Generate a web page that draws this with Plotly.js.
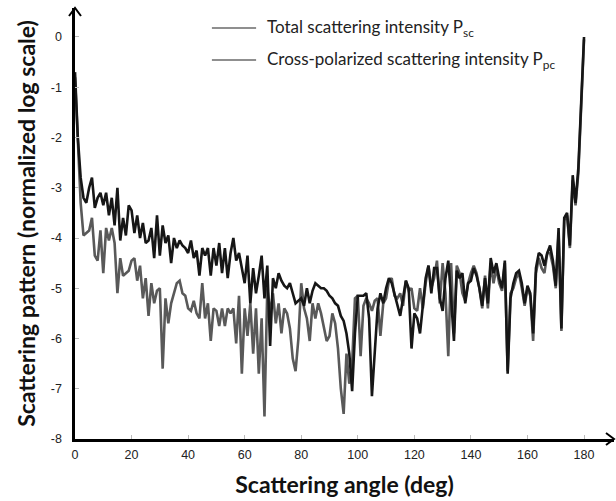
<!DOCTYPE html>
<html>
<head>
<meta charset="utf-8">
<script src="https://cdn.plot.ly/plotly-3.0.1.min.js"></script>
<style>
html,body{margin:0;padding:0;background:#fff;}
#chart{width:616px;height:501px;}
</style>
</head>
<body>
<div id="chart"></div>
<script>
// Scattering angle (deg), 0..180 in 1-degree steps
var angles = [];
for (var a = 0; a <= 180; a++) angles.push(a);

// Total scattering intensity P_sc (normalized log scale)
var totalPsc = [
-0.7,-2.0,-2.8,-3.2,-3.3,-3.0,-2.8,-3.4,-3.2,-3.1,
-3.35,-3.1,-3.55,-3.2,-3.75,-3.0,-4.05,-3.6,-3.95,-3.35,
-3.45,-3.9,-3.55,-4.0,-3.7,-4.1,-4.05,-3.8,-4.4,-3.55,
-4.35,-3.75,-4.1,-3.95,-4.5,-4.0,-4.2,-4.05,-4.15,-4.2,
-4.3,-4.05,-4.4,-4.25,-4.75,-4.2,-4.35,-4.2,-4.75,-4.2,
-4.55,-4.1,-4.7,-4.2,-4.8,-4.3,-4.0,-4.45,-4.3,-4.6,
-4.9,-4.35,-5.3,-4.6,-5.1,-4.75,-4.35,-5.2,-4.55,-6.15,
-4.8,-5.0,-4.7,-4.85,-4.95,-5.0,-4.9,-5.1,-5.3,-5.25,
-5.2,-5.35,-5.0,-5.3,-5.05,-4.9,-4.95,-5.0,-5.0,-5.05,
-5.15,-5.2,-5.3,-5.35,-5.55,-5.65,-5.9,-6.3,-7.05,-5.9,
-5.15,-5.15,-5.15,-5.1,-5.6,-7.15,-6.3,-5.4,-5.1,-5.3,
-5.0,-4.8,-4.9,-5.1,-5.3,-5.55,-5.2,-4.85,-5.0,-6.2,
-5.5,-5.6,-5.9,-5.3,-4.8,-4.55,-5.1,-4.6,-4.6,-5.2,
-5.45,-4.8,-4.45,-5.2,-6.05,-4.65,-4.8,-4.7,-5.3,-4.9,
-4.85,-4.6,-4.75,-5.0,-5.35,-4.8,-5.3,-4.4,-4.7,-4.5,
-4.8,-5.0,-4.45,-6.7,-5.2,-4.9,-4.7,-4.65,-4.9,-5.3,
-4.95,-5.1,-5.9,-4.6,-4.3,-4.35,-4.55,-4.3,-4.15,-4.45,
-4.95,-3.8,-5.8,-3.6,-3.5,-4.15,-2.75,-3.3,-2.6,-1.3,
0
];

// Cross-polarized scattering intensity P_pc (normalized log scale)
var crossPpc = [
-0.8,-2.2,-3.3,-3.95,-3.9,-3.85,-3.6,-4.35,-4.45,-3.85,
-4.7,-3.8,-4.05,-3.8,-4.1,-5.1,-4.4,-4.75,-4.7,-4.65,
-4.45,-4.4,-4.85,-4.55,-5.2,-4.8,-5.55,-4.9,-5.3,-5.05,
-5.0,-6.6,-5.2,-5.7,-5.3,-5.1,-4.9,-4.85,-5.1,-5.15,
-5.4,-5.45,-5.25,-5.5,-5.6,-4.9,-5.6,-5.3,-6.05,-5.4,
-5.45,-5.75,-5.4,-5.75,-5.4,-5.5,-5.4,-6.1,-5.15,-6.7,
-5.4,-5.95,-5.3,-6.3,-5.4,-6.7,-5.6,-7.55,-5.0,-5.5,
-5.1,-5.7,-5.3,-5.9,-5.4,-5.5,-5.8,-6.4,-6.65,-6.0,
-4.9,-5.4,-5.6,-6.05,-5.3,-5.6,-5.3,-5.5,-5.8,-6.05,
-5.95,-5.5,-5.7,-6.2,-7.0,-7.5,-6.3,-6.9,-6.5,-5.2,
-5.15,-6.35,-5.35,-5.2,-5.3,-5.45,-5.25,-5.2,-5.95,-5.3,
-5.2,-4.85,-4.8,-5.15,-5.2,-5.1,-5.35,-4.85,-5.05,-5.0,
-5.4,-5.45,-5.0,-5.4,-4.9,-4.55,-5.0,-4.8,-4.45,-5.3,
-4.5,-5.1,-6.35,-4.5,-5.9,-4.55,-4.7,-5.1,-5.25,-4.9,
-4.7,-4.55,-4.7,-5.0,-5.4,-4.75,-5.4,-4.5,-4.9,-4.6,
-4.9,-5.05,-4.5,-6.65,-5.1,-5.0,-4.8,-4.7,-5.0,-5.35,
-5.0,-5.15,-6.05,-4.7,-4.4,-4.6,-4.7,-4.3,-4.3,-4.55,
-5.0,-3.9,-5.85,-3.65,-3.55,-4.2,-2.85,-3.35,-2.7,-1.35,
-0.05
];

var xTicks = [0, 20, 40, 60, 80, 100, 120, 140, 160, 180];
var yTicks = [-8, -7, -6, -5, -4, -3, -2, -1, 0];

var legendLabels = [
  'Total scattering intensity P<sub>sc</sub>',
  'Cross-polarized scattering intensity P<sub>pc</sub>'
];

var traces = [
  {x: angles, y: crossPpc, type: 'scatter', mode: 'lines',
   line: {color: '#595959', width: 2.6}, name: legendLabels[1], showlegend: false},
  {x: angles, y: totalPsc, type: 'scatter', mode: 'lines',
   line: {color: '#161616', width: 2.6}, name: legendLabels[0], showlegend: false}
];

var tickFont = {family: 'Liberation Sans, Arial, sans-serif', size: 12.5, color: '#222'};
var titleFont = {family: 'Lato, Open Sans, sans-serif', size: 23, color: '#111', weight: 'bold'};
var legFont = {family: 'Lato, Open Sans, sans-serif', size: 17, color: '#222'};

// arrowhead sizes in paper units (plot area 539 x 431 px)
var px = 1 / 539, py = 1 / 431;

var layout = {
  width: 616, height: 501,
  margin: {l: 75, r: 2, t: 8, b: 62},
  paper_bgcolor: '#fff', plot_bgcolor: '#fff',
  showlegend: false,
  xaxis: {
    range: [0, 190.6], tickvals: xTicks, ticktext: xTicks.map(String),
    ticks: 'inside', ticklen: 4, tickcolor: '#bbb', tickwidth: 1,
    showgrid: false, zeroline: false, showline: true, linecolor: '#000', linewidth: 2.6,
    tickfont: tickFont, ticklabelstandoff: 2,
    title: {text: '<b>Scattering angle (deg)</b>', font: titleFont, standoff: 17}
  },
  yaxis: {
    range: [-8, 0.577], tickvals: yTicks, ticktext: yTicks.map(String),
    ticks: 'inside', ticklen: 4, tickcolor: '#bbb', tickwidth: 1,
    showgrid: false, zeroline: false, showline: true, linecolor: '#000', linewidth: 2.6,
    tickfont: tickFont, ticklabelstandoff: 8,
    title: {text: '<b>Scattering pattern (normalized log scale)</b>', font: titleFont, standoff: 9}
  },
  shapes: [
    {type: 'line', xref: 'paper', yref: 'paper', x0: 0.254, x1: 0.336, y0: 0.9536, y1: 0.9536,
     line: {color: '#6a6a6a', width: 1.5}},
    {type: 'line', xref: 'paper', yref: 'paper', x0: 0.254, x1: 0.336, y0: 0.8794, y1: 0.8794,
     line: {color: '#6a6a6a', width: 1.5}},
    // x-axis arrowhead (open chevron)
    {type: 'path', xref: 'paper', yref: 'paper',
     path: 'M ' + (1 - 8 * px) + ' ' + (6 * py) + ' L 1 0 L ' + (1 - 8 * px) + ' ' + (-6 * py),
     line: {color: '#000', width: 2}},
    // y-axis arrowhead (open chevron)
    {type: 'path', xref: 'paper', yref: 'paper',
     path: 'M ' + (-6 * px) + ' ' + (1 - 8 * py) + ' L 0 1 L ' + (6 * px) + ' ' + (1 - 8 * py),
     line: {color: '#000', width: 2}}
  ],
  annotations: [
    {xref: 'paper', yref: 'paper', x: 0.3525, y: 0.9536, xanchor: 'left', yanchor: 'middle',
     text: legendLabels[0], showarrow: false, font: legFont},
    {xref: 'paper', yref: 'paper', x: 0.3525, y: 0.8794, xanchor: 'left', yanchor: 'middle',
     text: legendLabels[1], showarrow: false, font: legFont}
  ]
};

Plotly.newPlot('chart', traces, layout, {displayModeBar: false, staticPlot: true});
</script>
</body>
</html>
